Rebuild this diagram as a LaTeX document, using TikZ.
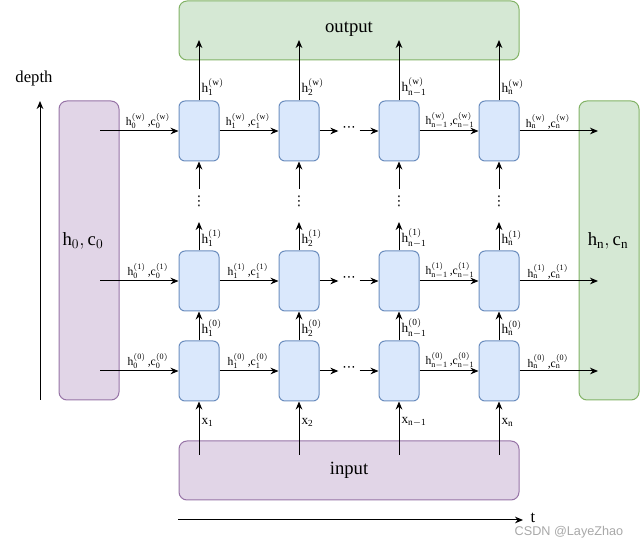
\documentclass[tikz,border=0pt]{standalone}
\usepackage{fontspec}
\setmainfont{Liberation Serif}
\newfontfamily\wmfont{Liberation Sans}
\newfontfamily\symfont{DejaVu Sans}
\usetikzlibrary{arrows.meta}
\definecolor{cellF}{HTML}{DAE8FC}
\definecolor{cellB}{HTML}{6C8EBF}
\definecolor{purF}{HTML}{E1D5E7}
\definecolor{purB}{HTML}{9673A6}
\definecolor{grnF}{HTML}{D5E8D4}
\definecolor{grnB}{HTML}{82B366}
\definecolor{wmgray}{HTML}{A8A8A8}
\newcommand{\myh}[2]{\ensuremath{\mathrm{h}^{(\mathrm{#2})}_{\mathrm{#1}}}}
\newcommand{\myc}[2]{\ensuremath{\mathrm{c}^{(\mathrm{#2})}_{\mathrm{#1}}}}
\begin{document}
\begin{tikzpicture}[x=0.75pt,y=-0.75pt,line width=0.75pt,
  >={Stealth[length=6pt,width=5pt]},
  cell/.style={draw=cellB,fill=cellF,rounded corners=4.5pt,minimum width=30pt,minimum height=45pt,inner sep=0pt},
  purbox/.style={draw=purB,fill=purF,rounded corners=6pt,inner sep=0pt},
  grnbox/.style={draw=grnB,fill=grnF,rounded corners=6pt,inner sep=0pt},
  hlab/.style={font=\fontsize{8.7}{10}\selectfont,inner sep=0.5pt,anchor=south},
  vlab/.style={font=\fontsize{10}{12}\selectfont,inner sep=0pt,anchor=west},
  biglab/.style={font=\fontsize{14}{16}\selectfont,inner sep=0pt},
  boxlab/.style={font=\fontsize{14}{16}\selectfont,inner sep=0pt},
  dotsh/.style={font=\symfont\fontsize{10}{12}\selectfont,inner sep=0pt,outer sep=3pt},
  dotsv/.style={font=\symfont\fontsize{10}{12}\selectfont,inner sep=0pt}]
\useasboundingbox (0,0) rectangle (640,548);
% big boxes
\node[grnbox,minimum width=255pt,minimum height=44.25pt] (out) at (349,30.5) {};
\node[boxlab] (outlab) at (349,29) {output};
\node[purbox,minimum width=255pt,minimum height=44.25pt] (inp) at (349,470.5) {};
\node[boxlab] (inplab) at (349,470) {input};
\node[purbox,minimum width=45pt,minimum height=224.25pt] (lbox) at (89,250.5) {};
\node[biglab] (llab) at (83,241) {$\mathrm{h}_0,\mathrm{c}_0$};
\node[grnbox,minimum width=45pt,minimum height=224.25pt] (rbox) at (609,250.5) {};
\node[biglab] (rlab) at (608,241) {$\mathrm{h}_\mathrm{n},\mathrm{c}_\mathrm{n}$};
% cells
\foreach \i/\x in {1/199,2/299,3/399,4/499}
  \foreach \r/\y in {1/371,2/281,3/131}
    \node[cell] (c\i\r) at (\x,\y) {};
% horizontal connectors
\foreach \r/\y/\p in {1/371/0,2/281/1,3/131/w}{
  \coordinate (L\r) at (100,\y);
  \coordinate (R\r) at (598,\y);
  \node[dotsh] (d\r) at (349,\y-1.5) {⋯};
  \draw[->] (L\r) -- (c1\r.west);
  \draw[->] (c1\r.east) -- (c2\r.west);
  \draw[->] (c2\r.east) -- (c2\r.east -| d\r.west);
  \draw[->] (c3\r.west -| d\r.east) -- (c3\r.west);
  \draw[->] (c3\r.east) -- (c4\r.west);
  \draw[->] (c4\r.east) -- (R\r);
  \node[hlab] (hl0\r) at (148,\y-1) {\myh{0}{\p}\,,\myc{0}{\p}};
  \node[hlab] (hl1\r) at (248,\y-1) {\myh{1}{\p}\,,\myc{1}{\p}};
  \node[hlab] (hl3\r) at (450,\y-1) {\myh{n-1}{\p}\,,\myc{n-1}{\p}};
  \node[hlab] (hl4\r) at (548,\y-1) {\myh{n}{\p}\,,\myc{n}{\p}};
}
% vertical connectors
\foreach \i/\x/\s in {1/199/1,2/299/2,3/399/n-1,4/499/n}{
  \coordinate (I\i) at (\x,455);
  \coordinate (U\i) at (\x,222);
  \coordinate (V\i) at (\x,189);
  \coordinate (O\i) at (\x,40);
  \draw[->] (I\i) -- (c\i1.south);
  \draw[->] (c\i1.north) -- (c\i2.south);
  \draw[->] (c\i2.north) -- (U\i);
  \node[dotsv] (v\i) at (\x,201) {⋮};
  \draw[->] (V\i) -- (c\i3.south);
  \draw[->] (c\i3.north) -- (O\i);
  \node[vlab] (xl\i) at (\x+2,422) {$\mathrm{x}_{\mathrm{\s}}$};
  \node[vlab] (h0l\i) at (\x+2,328) {\myh{\s}{0}};
  \node[vlab] (h1l\i) at (\x+2,238) {\myh{\s}{1}};
  \node[vlab] (hwl\i) at (\x+2,87) {\myh{\s}{w}};
}
% axes
\coordinate (D0) at (40,400);
\coordinate (D1) at (40,101);
\draw[->] (D0) -- (D1);
\node[font=\fontsize{12.5}{14}\selectfont,inner sep=0pt] (dlab) at (34,78) {depth};
\coordinate (T0) at (178,520);
\coordinate (T1) at (523,520);
\draw[->] (T0) -- (T1);
\node[font=\fontsize{12.5}{14}\selectfont,inner sep=0pt] (tlab) at (533,518) {t};
\node[font=\wmfont\fontsize{9.5}{11}\selectfont,text=wmgray,inner sep=0pt] (wm) at (569,532) {CSDN @LayeZhao};
\end{tikzpicture}
\end{document}
